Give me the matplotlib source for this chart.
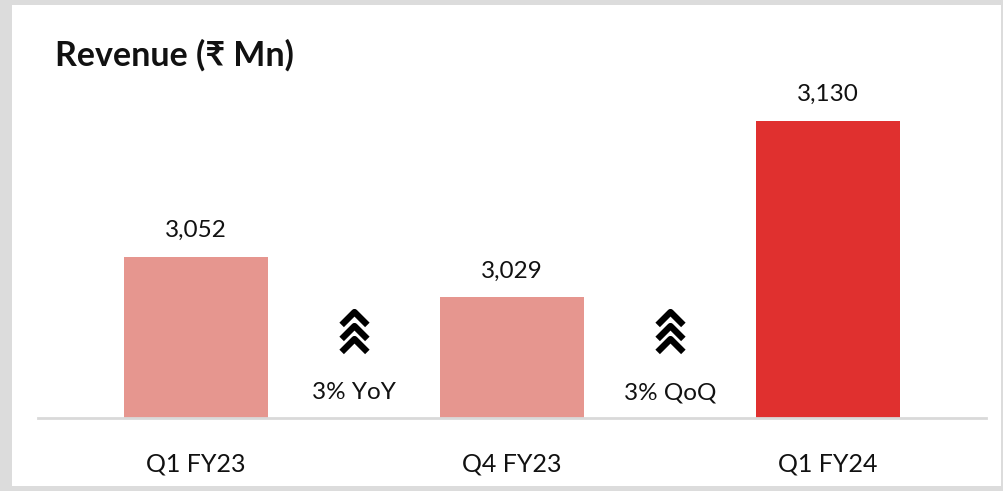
import matplotlib
matplotlib.use("Agg")
import matplotlib.pyplot as plt
import matplotlib.patches as patches
import matplotlib.transforms as mtransforms
from matplotlib.path import Path

plt.rcParams['font.family'] = ['Lato', 'DejaVu Sans']

# data
quarters = ["Q1 FY23", "Q4 FY23", "Q1 FY24"]
revenue = [3052, 3029, 3130]
bar_colors = ["#E6968F", "#E6968F", "#E0302F"]
growth_labels = ["3% YoY", "3% QoQ"]

fig = plt.figure(figsize=(10.04, 4.91), dpi=100)
fig.patch.set_facecolor("#dcdcdc")

# white card behind the chart
card = patches.Rectangle((12 / 1004, 5 / 491), 989 / 1004, 481 / 491,
                         transform=fig.transFigure, facecolor="white",
                         edgecolor="none", zorder=-5)
fig.patches.append(card)

ax = fig.add_axes([38 / 1004, 73 / 491, 948 / 1004, 318 / 491])
ax.set_zorder(2)
ax.set_facecolor("none")

x = list(range(len(quarters)))
bars = ax.bar(x, revenue, width=0.456, color=bar_colors, zorder=2)
ax.set_xlim(-0.5, 2.5)
ax.set_ylim(2960, 2960 + 318 / 1.75)

for xi, v in zip(x, revenue):
    ax.annotate(f"{v:,}", (xi, v), xytext=(0, 19), textcoords="offset points",
                ha="center", va="center", fontsize=17.5, color="#111111")

# growth chevrons between bars
chevron = Path([(-1, -0.5), (0, 0.5), (1, -0.5)],
               [Path.MOVETO, Path.LINETO, Path.LINETO])
blend = mtransforms.blended_transform_factory(ax.transData, ax.transAxes)
for i, lab in enumerate(growth_labels):
    xm = (x[i] + x[i + 1]) / 2
    for yf in [0.316, 0.272, 0.228]:
        ax.plot([xm], [yf], marker=chevron, markersize=18.5, markeredgewidth=4.6,
                markerfacecolor="none", markeredgecolor="black",
                transform=blend, clip_on=False, linestyle="none")
    ax.text(xm, 0.079, lab, transform=blend, ha="center", va="center",
            fontsize=17.5, color="#111111")

for s in ["top", "right", "left"]:
    ax.spines[s].set_visible(False)
ax.spines["bottom"].set_color("#d9d9d9")
ax.spines["bottom"].set_linewidth(2)
ax.set_yticks([])
ax.set_xticks(x)
ax.set_xticklabels(quarters, fontsize=18, color="#111111")
ax.tick_params(axis="x", length=0, pad=25)

fig.text(55 / 1004, 1 - 55 / 491, "Revenue (₹ Mn)", fontsize=24.5,
         fontweight="bold", va="center", ha="left", color="#111111")

fig.savefig("out.png", dpi=100, facecolor=fig.get_facecolor())
